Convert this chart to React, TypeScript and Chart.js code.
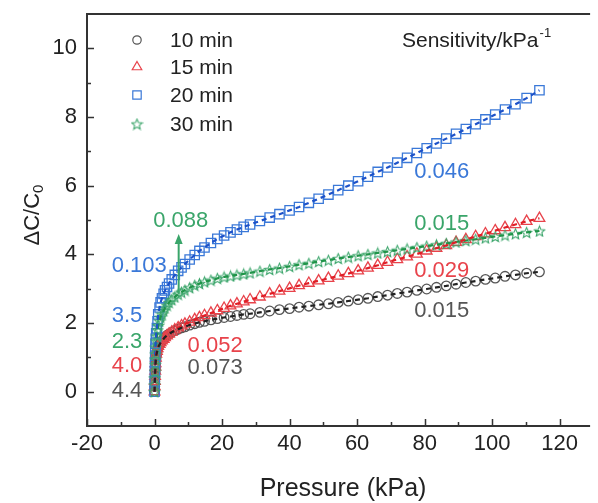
import React, { useEffect, useRef } from "react";
import { Chart, registerables } from "chart.js";

Chart.register(...registerables);

const W = 598;
const H = 503;
const FONT = '"Liberation Sans", Arial, sans-serif';

// Pressure (kPa), shared by all series
const pressure = [
  0, 0.05, 0.1, 0.15, 0.2, 0.25, 0.3, 0.4, 0.5, 0.7,
  0.9, 1.1, 1.5, 1.8, 2.2, 2.7, 3.1, 3.7, 4.3, 5.1,
  6.0, 7.0, 8.0, 9.0, 10.4, 11.9, 13.3, 14.8, 16.7, 18.6,
  20.6, 22.5, 24.4, 26.4, 28.3, 31.2, 34.1, 37.0, 40.0, 42.8,
  45.7, 48.6, 51.5, 54.4, 57.4, 60.3, 63.2, 66.1, 69.0, 71.9,
  74.8, 77.7, 80.6, 83.5, 86.4, 89.3, 92.2, 95.1, 98.0, 100.9,
  103.8, 106.9, 110.2, 114.0,
];

const min10 = [
  0, 0.15, 0.3, 0.45, 0.58, 0.7, 0.8, 0.95, 1.05, 1.13,
  1.22, 1.3, 1.37, 1.43, 1.48, 1.54, 1.59, 1.64, 1.68, 1.73,
  1.78, 1.82, 1.86, 1.89, 1.94, 1.98, 2.02, 2.05, 2.09, 2.13,
  2.16, 2.19, 2.22, 2.25, 2.27, 2.31, 2.35, 2.39, 2.42, 2.46,
  2.49, 2.53, 2.56, 2.6, 2.64, 2.68, 2.72, 2.77, 2.81, 2.86,
  2.9, 2.95, 2.99, 3.04, 3.08, 3.13, 3.18, 3.22, 3.27, 3.31,
  3.36, 3.4, 3.45, 3.49,
];

const min15 = [
  0, 0.15, 0.3, 0.45, 0.6, 0.72, 0.82, 0.98, 1.1, 1.18,
  1.26, 1.32, 1.38, 1.43, 1.48, 1.53, 1.58, 1.63, 1.68, 1.74,
  1.8, 1.86, 1.92, 1.97, 2.03, 2.1, 2.16, 2.22, 2.29, 2.36,
  2.43, 2.5, 2.56, 2.62, 2.68, 2.76, 2.85, 2.93, 3.01, 3.09,
  3.16, 3.23, 3.3, 3.37, 3.44, 3.52, 3.6, 3.68, 3.77, 3.85,
  3.93, 4.01, 4.1, 4.18, 4.26, 4.35, 4.43, 4.52, 4.6, 4.69,
  4.78, 4.87, 4.96, 5.05,
];

const min20 = [
  0, 0.3, 0.6, 0.85, 1.05, 1.25, 1.4, 1.55, 1.7, 1.85,
  2.05, 2.25, 2.45, 2.6, 2.72, 2.85, 2.95, 3.05, 3.15, 3.27,
  3.4, 3.52, 3.62, 3.72, 3.85, 3.98, 4.1, 4.2, 4.33, 4.45,
  4.55, 4.64, 4.72, 4.8, 4.87, 4.97, 5.07, 5.17, 5.28, 5.38,
  5.5, 5.62, 5.74, 5.87, 6.0, 6.13, 6.26, 6.4, 6.53, 6.67,
  6.81, 6.95, 7.09, 7.23, 7.37, 7.51, 7.65, 7.79, 7.93, 8.07,
  8.22, 8.37, 8.55, 8.78,
];

const min30 = [
  0, 0.2, 0.4, 0.6, 0.8, 0.95, 1.1, 1.3, 1.48, 1.62,
  1.8, 1.93, 2.06, 2.17, 2.26, 2.36, 2.44, 2.52, 2.6, 2.68,
  2.76, 2.84, 2.9, 2.96, 3.03, 3.1, 3.15, 3.2, 3.25, 3.3,
  3.34, 3.37, 3.4, 3.43, 3.46, 3.51, 3.56, 3.6, 3.65, 3.7,
  3.74, 3.79, 3.83, 3.88, 3.92, 3.96, 4.0, 4.04, 4.08, 4.12,
  4.16, 4.2, 4.24, 4.28, 4.32, 4.36, 4.4, 4.44, 4.48, 4.52,
  4.56, 4.6, 4.64, 4.68,
];

const seriesLabels = ["10 min", "15 min", "20 min", "30 min"];
const xTicks = [-20, 0, 20, 40, 60, 80, 100, 120];
const xMinorTicks = [-10, 10, 30, 50, 70, 90, 110];
const yTicks = [0, 2, 4, 6, 8, 10];
const yMinorTicks = [1, 3, 5, 7, 9];

const GRAY = "#555555";
const RED = "#e8434b";
const BLUE = "#3a78d8";
const GREEN = "#3aa56a";

// Sensitivity annotations (text, colour, anchor in data units)
const annotations = [
  { text: "0.046", color: BLUE, x: 76.9, y: 6.4 },
  { text: "0.015", color: GREEN, x: 76.9, y: 4.88 },
  { text: "0.029", color: RED, x: 76.9, y: 3.52 },
  { text: "0.015", color: GRAY, x: 76.9, y: 2.35 },
  { text: "0.088", color: GREEN, x: -0.4, y: 4.97 },
  { text: "0.103", color: BLUE, x: -12.7, y: 3.66 },
  { text: "3.5", color: BLUE, x: -12.7, y: 2.2 },
  { text: "2.3", color: GREEN, x: -12.7, y: 1.45 },
  { text: "4.0", color: RED, x: -12.7, y: 0.75 },
  { text: "4.4", color: GRAY, x: -12.7, y: 0.02 },
  { text: "0.052", color: RED, x: 9.8, y: 1.33 },
  { text: "0.073", color: GRAY, x: 9.8, y: 0.69 },
];
const arrow = { x: 7.15, from: 2.85, to: 4.59, color: GREEN };

function makeStar(color: string, size: number) {
  const c = document.createElement("canvas");
  c.width = size;
  c.height = size;
  const ctx = c.getContext("2d")!;
  const cx = size / 2;
  const cy = size / 2 + 0.6;
  const ro = size / 2 - 1;
  const ri = ro * 0.45;
  ctx.beginPath();
  for (let i = 0; i < 10; i++) {
    const r = i % 2 === 0 ? ro : ri;
    const a = -Math.PI / 2 + (i * Math.PI) / 5;
    const px = cx + r * Math.cos(a);
    const py = cy + r * Math.sin(a);
    if (i === 0) ctx.moveTo(px, py);
    else ctx.lineTo(px, py);
  }
  ctx.closePath();
  ctx.strokeStyle = color;
  ctx.lineWidth = 1.1;
  ctx.stroke();
  return c;
}

function drawMarker(ctx: CanvasRenderingContext2D, kind: string, x: number, y: number, color: string, star: HTMLCanvasElement) {
  ctx.save();
  ctx.strokeStyle = color;
  ctx.lineWidth = 1.2;
  ctx.beginPath();
  if (kind === "circle") {
    ctx.arc(x, y, 4.2, 0, Math.PI * 2);
    ctx.stroke();
  } else if (kind === "triangle") {
    const r = 5.5;
    ctx.moveTo(x, y - r);
    ctx.lineTo(x + r * 0.866, y + r * 0.5);
    ctx.lineTo(x - r * 0.866, y + r * 0.5);
    ctx.closePath();
    ctx.stroke();
  } else if (kind === "rect") {
    ctx.rect(x - 4.2, y - 4.2, 8.4, 8.4);
    ctx.stroke();
  } else {
    ctx.drawImage(star, x - star.width / 2, y - star.height / 2);
  }
  ctx.restore();
}

export default function App() {
  const ref = useRef<HTMLCanvasElement | null>(null);

  useEffect(() => {
    if (!ref.current) return;
    const star = makeStar(GREEN, 13);
    const toXY = (vals: number[]) => pressure.map((p, i) => ({ x: p, y: vals[i] }));

    const series = [
      { vals: min10, marker: "circle" as any, mColor: GRAY, lColor: "#222222", radius: 4.8 },
      { vals: min15, marker: "triangle" as any, mColor: RED, lColor: "#e01e26", radius: 6.2 },
      { vals: min20, marker: "rect" as any, mColor: BLUE, lColor: "#1d52c9", radius: 6.6 },
      { vals: min30, marker: star as any, mColor: GREEN, lColor: "#1f9448", radius: 6.5 },
    ];

    const datasets: any[] = [];
    series.forEach((s, i) => {
      datasets.push({
        label: seriesLabels[i],
        data: toXY(s.vals),
        showLine: false,
        pointStyle: s.marker,
        pointRadius: s.radius,
        pointBorderColor: s.mColor,
        pointBackgroundColor: "rgba(0,0,0,0)",
        pointBorderWidth: 1.3,
        order: 10 - i,
      });
    });
    series.forEach((s, i) => {
      datasets.push({
        label: seriesLabels[i] + " fit",
        data: toXY(s.vals),
        showLine: true,
        pointRadius: 0,
        borderColor: s.lColor,
        borderWidth: 2.2,
        borderDash: [5, 4],
        tension: 0,
        order: 1,
      });
    });

    const decor = {
      id: "decor",
      afterDatasetsDraw(chart: any) {
        const { ctx, chartArea: ca, scales } = chart;
        const xs = scales.x;
        const ys = scales.y;
        ctx.save();

        // frame
        ctx.strokeStyle = "#333333";
        ctx.lineWidth = 2;
        ctx.beginPath();
        ctx.moveTo(ca.right, ca.top);
        ctx.lineTo(ca.left, ca.top);
        ctx.lineTo(ca.left, ca.bottom);
        ctx.lineTo(ca.right, ca.bottom);
        ctx.stroke();

        // ticks (inward)
        ctx.lineWidth = 1.5;
        ctx.beginPath();
        xTicks.forEach((v) => {
          const px = Math.round(xs.getPixelForValue(v)) + 0.5;
          ctx.moveTo(px, ca.bottom);
          ctx.lineTo(px, ca.bottom - 7);
        });
        xMinorTicks.forEach((v) => {
          const px = Math.round(xs.getPixelForValue(v)) + 0.5;
          ctx.moveTo(px, ca.bottom);
          ctx.lineTo(px, ca.bottom - 4);
        });
        yTicks.forEach((v) => {
          const py = Math.round(ys.getPixelForValue(v)) + 0.5;
          ctx.moveTo(ca.left, py);
          ctx.lineTo(ca.left + 7, py);
        });
        yMinorTicks.forEach((v) => {
          const py = Math.round(ys.getPixelForValue(v)) + 0.5;
          ctx.moveTo(ca.left, py);
          ctx.lineTo(ca.left + 4, py);
        });
        ctx.stroke();

        // tick labels
        ctx.fillStyle = "#222222";
        ctx.font = `22px ${FONT}`;
        ctx.textBaseline = "middle";
        ctx.textAlign = "center";
        xTicks.forEach((v) => {
          ctx.fillText(String(v), xs.getPixelForValue(v), ca.bottom + 18);
        });
        ctx.textAlign = "right";
        yTicks.forEach((v) => {
          ctx.fillText(String(v), ca.left - 10, ys.getPixelForValue(v));
        });

        // x title
        ctx.textAlign = "center";
        ctx.font = `25px ${FONT}`;
        ctx.fillText("Pressure (kPa)", 343, 489);

        // y title: ΔC/C0
        ctx.save();
        ctx.translate(33, 215);
        ctx.rotate(-Math.PI / 2);
        ctx.font = `22px ${FONT}`;
        const main = "\u0394C/C";
        const wMain = ctx.measureText(main).width;
        ctx.font = `15px ${FONT}`;
        const wSub = ctx.measureText("0").width;
        const start = -(wMain + wSub) / 2;
        ctx.textAlign = "left";
        ctx.font = `22px ${FONT}`;
        ctx.fillText(main, start, 0);
        ctx.font = `15px ${FONT}`;
        ctx.fillText("0", start + wMain, 6);
        ctx.restore();

        // legend
        const kinds = ["circle", "triangle", "rect", "star"];
        const colors = [GRAY, RED, BLUE, GREEN];
        const rowsY = [40, 67, 95, 124];
        ctx.font = `21px ${FONT}`;
        ctx.textAlign = "left";
        ctx.fillStyle = "#222222";
        seriesLabels.forEach((lab, i) => {
          drawMarker(ctx, kinds[i], 137, rowsY[i], colors[i], star);
          ctx.fillStyle = "#222222";
          ctx.fillText(lab, 170, rowsY[i] + 1);
        });

        // sensitivity header
        ctx.font = `21px ${FONT}`;
        ctx.fillText("Sensitivity/kPa", 402, 41);
        const wS = ctx.measureText("Sensitivity/kPa").width;
        ctx.font = `13px ${FONT}`;
        ctx.fillText("-1", 402 + wS + 1, 33);

        // annotations
        ctx.font = `22px ${FONT}`;
        annotations.forEach((a) => {
          ctx.fillStyle = a.color;
          ctx.fillText(a.text, xs.getPixelForValue(a.x), ys.getPixelForValue(a.y));
        });

        // arrow
        const ax = xs.getPixelForValue(arrow.x);
        const ay0 = ys.getPixelForValue(arrow.from);
        const ay1 = ys.getPixelForValue(arrow.to);
        ctx.strokeStyle = arrow.color;
        ctx.fillStyle = arrow.color;
        ctx.lineWidth = 2;
        ctx.beginPath();
        ctx.moveTo(ax, ay0);
        ctx.lineTo(ax, ay1 + 8);
        ctx.stroke();
        ctx.beginPath();
        ctx.moveTo(ax, ay1);
        ctx.lineTo(ax - 4, ay1 + 10);
        ctx.lineTo(ax + 4, ay1 + 10);
        ctx.closePath();
        ctx.fill();

        ctx.restore();
      },
    };

    const chart = new Chart(ref.current, {
      type: "scatter",
      data: { datasets },
      options: {
        responsive: false,
        animation: false,
        devicePixelRatio: 1,
        layout: { padding: { left: 87, top: 14, right: 0, bottom: 77 } },
        scales: {
          x: { type: "linear", min: -20, max: 129, display: false },
          y: { type: "linear", min: -1, max: 11, display: false },
        },
        plugins: {
          legend: { display: false },
          tooltip: { enabled: false },
        },
      },
      plugins: [decor],
    });
    return () => chart.destroy();
  }, []);

  return (
    <div style={{ position: "absolute", left: 0, top: 0, width: W, height: H, background: "#ffffff" }}>
      <canvas ref={ref} width={W} height={H} style={{ display: "block", width: W, height: H }} />
    </div>
  );
}
